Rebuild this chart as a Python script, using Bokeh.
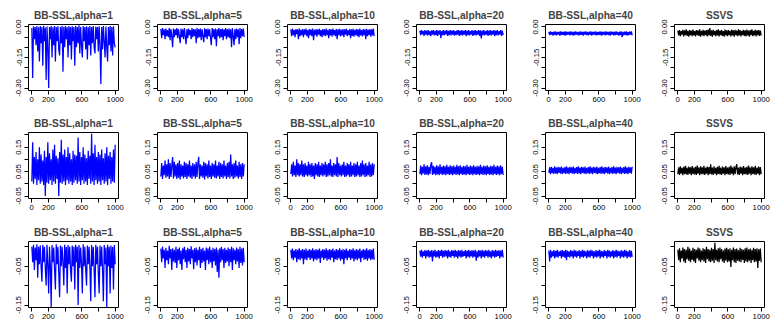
import numpy as np
from bokeh.plotting import figure
from bokeh.layouts import gridplot
from bokeh.models import Range1d, FixedTicker, NumeralTickFormatter
from bokeh.embed import file_html
from bokeh.resources import INLINE

titles = ["BB-SSL,alpha=1", "BB-SSL,alpha=5", "BB-SSL,alpha=10",
          "BB-SSL,alpha=20", "BB-SSL,alpha=40", "SSVS"]
line_colors = ["#0000FF", "#0000FF", "#0000FF", "#0000FF", "#0000FF", "#000000"]

# Trace values in units of 0.001
# ---- row 1 ----
r1p1 = [-5, -250, 3, -60, 0, -90, 5, -120, -2, -170, 4, -80, 0, -190, 6, -70, -3, -260, 2, -100,
        -300, 0, -60, 4, -150, -2, -90, 5, -170, 0, -70, 3, -110, -140, 0, -80, 6, -220, 0, -100,
        4, -60, -2, -150, 5, -90, 0, -160, 3, -70, -1, -190, 4, -100, 0, -80, 8, -130, 0, -90,
        -150, 5, -70, 0, -110, 3, -160, -2, -90, 4, -140, 0, -80, 5, -100, -130, 2, -60, 0, -120,
        3, -90, -280, 0, -110, 4, -70, -150, 2, -100, -170, 0, -90, 5, -120, 0, -140, 3, -80, -100]
r1p2 = [-10, -55, -5, -40, -12, -60, -8, -45, -15, -50, -6, -65, -10, -45, -100, -8, -50, -12, -40, -5,
        -55, -10, -45, -80, -8, -50, -12, -60, -5, -45, -85, -10, -55, -8, -40, -15, -60, -6, -50, -10,
        -45, -12, -80, -5, -55, -10, -50, -8, -65, -12, -45, -75, -6, -50, -10, -60, -8, -45, -12, -55,
        -90, -5, -50, -10, -60, -8, -95, -12, -45, -6, -55, -10, -50, -8, -65, -12, -45, -5, -60, -10,
        -50, -8, -55, -12, -100, -6, -45, -90, -10, -60, -8, -50, -12, -85, -5, -55, -10, -45, -8, -50]
r1p3 = [-12, -45, -8, -40, -15, -50, -10, -35, -12, -60, -8, -45, -14, -40, -10, -50, -12, -38, -8, -45,
        -15, -55, -10, -40, -12, -45, -8, -65, -14, -40, -10, -48, -12, -38, -9, -45, -15, -50, -10, -42,
        -12, -45, -8, -40, -14, -55, -10, -42, -12, -48, -8, -40, -15, -45, -10, -60, -12, -40, -9, -46,
        -14, -42, -10, -50, -12, -38, -8, -45, -15, -40, -10, -55, -12, -44, -9, -48, -14, -40, -10, -45,
        -12, -50, -8, -42, -15, -46, -10, -40, -12, -60, -9, -45, -14, -40, -10, -48, -12, -42, -8, -45]
r1p4 = [-18, -40, -15, -36, -20, -44, -16, -38, -18, -42, -15, -40, -20, -45, -17, -38, -15, -42, -19, -40,
        -16, -44, -18, -38, -15, -55, -20, -40, -16, -42, -18, -37, -15, -44, -19, -40, -16, -42, -18, -38,
        -15, -43, -20, -40, -17, -38, -15, -44, -18, -40, -16, -42, -19, -38, -15, -45, -18, -40, -16, -42,
        -20, -38, -15, -44, -18, -40, -16, -42, -19, -38, -15, -44, -17, -56, -18, -40, -15, -42, -20, -38,
        -16, -44, -18, -40, -15, -42, -19, -38, -16, -45, -18, -40, -15, -42, -20, -38, -16, -44, -18, -40]
r1p5 = [-24, -40, -22, -38, -25, -42, -23, -39, -22, -41, -25, -38, -23, -42, -22, -40, -24, -39, -23, -43,
        -22, -40, -25, -38, -23, -41, -22, -39, -24, -42, -23, -40, -22, -38, -25, -41, -23, -40, -22, -39,
        -24, -42, -23, -38, -22, -40, -25, -41, -23, -39, -22, -42, -24, -38, -23, -40, -22, -41, -25, -39,
        -23, -40, -22, -42, -24, -38, -23, -41, -22, -39, -25, -40, -23, -42, -22, -38, -24, -41, -23, -40,
        -22, -39, -25, -42, -23, -40, -22, -50, -24, -41, -23, -39, -22, -42, -25, -40, -23, -38, -22, -41]
r1p6 = [-18, -42, -15, -45, -20, -38, -14, -46, -17, -40, -12, -44, -19, -48, -15, -40, -18, -45, -13, -42,
        -20, -46, -15, -40, -17, -44, -12, -48, -19, -42, -14, -45, -18, -40, -16, -46, -13, -42, -5, -44,
        -17, -48, -14, -40, -19, -45, -15, -42, -12, -46, -18, -40, -15, -44, -20, -48, -13, -42, -17, -45,
        -15, -40, -19, -46, -13, -42, -17, -48, -14, -40, -18, -45, -12, -42, -16, -47, -19, -40, -14, -44,
        -17, -46, -13, -42, -18, -48, -15, -40, -12, -45, -19, -42, -14, -46, -17, -40, -15, -44, -18, -42]

# ---- row 2 ----
r2p1 = [10, 170, 0, 110, 20, 130, -5, 100, 15, 150, 0, 120, 10, 95, -5, 135, -50, 110, 5, 170,
        0, 125, 15, 100, -5, 140, 10, 160, 0, 115, 20, 105, -50, 130, 5, 180, 0, 120, 10, 140,
        -5, 110, 15, 150, 0, 125, 10, 100, -5, 135, 5, 120, 15, 115, 0, 190, 10, 130, -5, 110,
        15, 150, 0, 120, 10, 105, -5, 135, 20, 115, 0, 205, 10, 125, -5, 160, 15, 110, 0, 130,
        10, 120, -5, 140, 15, 105, 0, 125, 10, 150, -5, 115, 20, 130, 0, 110, 10, 140, 5, 160]
r2p2 = [30, 85, 20, 75, 35, 95, 25, 80, 30, 100, 20, 85, 28, 75, 110, 22, 90, 30, 80, 20,
        85, 25, 95, 18, 80, 30, 75, 22, 90, 28, 85, 20, 80, 30, 95, 25, 75, 20, 85, 30,
        80, 22, 90, 28, 85, 110, 20, 80, 30, 75, 25, 90, 18, 85, 30, 80, 22, 95, 28, 75,
        20, 85, 30, 80, 25, 95, 22, 75, 30, 90, 20, 85, 28, 80, 22, 95, 30, 75, 20, 85,
        28, 90, 22, 120, 30, 80, 20, 85, 25, 95, 30, 75, 22, 90, 28, 80, 20, 85, 30, 80]
r2p3 = [40, 80, 30, 90, 35, 75, 28, 100, 35, 85, 30, 80, 35, 95, 30, 80, 28, 85, 35, 75,
        30, 90, 35, 80, 28, 85, 30, 75, 20, 85, 35, 80, 30, 90, 28, 75, 35, 85, 30, 80,
        35, 90, 28, 80, 30, 85, 35, 100, 30, 75, 28, 85, 35, 80, 30, 110, 28, 85, 35, 75,
        30, 80, 35, 90, 28, 75, 30, 85, 35, 80, 28, 90, 30, 75, 35, 85, 28, 80, 30, 90,
        35, 75, 28, 85, 30, 95, 35, 80, 28, 85, 30, 75, 35, 90, 28, 80, 30, 85, 35, 80]
r2p4 = [40, 75, 35, 70, 42, 80, 36, 72, 38, 76, 35, 70, 40, 78, 88, 36, 74, 40, 70, 35,
        76, 38, 72, 35, 80, 40, 70, 36, 75, 38, 72, 35, 78, 40, 70, 36, 76, 38, 72, 35,
        75, 40, 70, 36, 78, 38, 72, 35, 76, 40, 70, 36, 74, 38, 72, 35, 78, 40, 70, 36,
        75, 38, 72, 35, 76, 40, 70, 36, 74, 38, 72, 35, 78, 40, 70, 36, 75, 38, 72, 35,
        76, 40, 70, 36, 74, 38, 72, 35, 78, 40, 70, 36, 75, 38, 72, 35, 76, 40, 70, 36]
r2p5 = [45, 68, 40, 70, 44, 65, 41, 72, 43, 66, 40, 70, 45, 67, 42, 71, 40, 65, 44, 69,
        41, 72, 43, 66, 40, 70, 45, 67, 42, 71, 40, 65, 44, 69, 41, 72, 43, 66, 40, 70,
        45, 67, 42, 71, 40, 65, 44, 69, 41, 72, 43, 66, 40, 70, 45, 67, 42, 71, 40, 65,
        44, 69, 41, 72, 43, 66, 40, 70, 45, 67, 42, 71, 40, 65, 44, 69, 41, 72, 43, 66,
        40, 70, 45, 67, 42, 71, 40, 65, 44, 69, 41, 72, 43, 66, 40, 70, 45, 67, 42, 70]
r2p6 = [40, 68, 36, 72, 42, 65, 35, 70, 40, 74, 38, 66, 36, 71, 42, 68, 35, 73, 40, 66,
        38, 70, 36, 75, 42, 67, 35, 72, 40, 68, 38, 74, 36, 66, 42, 71, 35, 69, 40, 80,
        38, 67, 36, 72, 42, 65, 35, 70, 40, 74, 38, 66, 36, 71, 42, 68, 35, 73, 40, 66,
        38, 70, 36, 75, 42, 67, 35, 72, 40, 68, 80, 38, 66, 36, 71, 42, 68, 35, 73, 40,
        66, 38, 70, 36, 75, 42, 67, 35, 72, 40, 68, 38, 74, 36, 66, 42, 71, 35, 69, 40]

# ---- row 3 ----
r3p1 = [0, -40, 5, -60, -2, -35, 6, -80, 0, -45, 3, -50, -90, 4, -40, 0, -55, -100, 5, -45,
        -120, 0, -50, -155, 4, -40, -2, -60, -110, 6, -45, 0, -70, -130, 3, -50, 0, -40, -100, 5,
        -55, -1, -120, 4, -45, 0, -60, -90, 3, -50, 0, -110, 5, -40, 0, -150, 4, -55, -2, -45,
        -120, 6, -50, 0, -60, -100, 3, -45, 0, -55, -140, 4, -50, -1, -60, -130, 5, -45, 0, -70,
        -120, 3, -50, 0, -60, -140, 4, -45, -2, -155, 5, -50, 0, -120, 3, -55, -1, -110, 4, -45]
r3p2 = [-5, -40, 0, -30, -8, -55, -3, -35, -10, -45, 2, -30, -6, -60, -4, -38, -8, -42, 0, -55,
        -6, -35, -2, -45, -10, -60, -4, -32, 0, -40, -8, -55, -3, -38, -6, -45, 1, -30, -8, -58,
        -4, -40, -2, -48, -8, -35, 0, -55, -6, -42, -3, -38, -10, -60, -2, -35, -5, -45, 0, -40,
        -8, -55, -3, -38, -6, -48, -2, -65, -8, -80, -4, -40, 0, -35, -6, -55, -3, -42, -8, -38,
        -2, -50, -6, -40, 0, -60, -4, -35, -8, -45, -2, -38, -6, -55, 0, -42, -5, -48, -3, -40]
r3p3 = [-8, -30, -5, -35, -10, -28, -6, -40, -8, -32, -4, -35, -9, -30, -6, -45, -8, -32, -5, -35,
        -10, -28, -6, -34, -8, -30, -4, -38, -9, -32, -6, -35, -8, -30, -5, -42, -10, -28, -6, -34,
        -8, -30, -4, -36, -9, -32, -6, -35, -8, -28, -5, -40, -10, -32, -6, -34, -8, -30, -4, -36,
        -9, -32, -6, -45, -8, -30, -5, -35, -10, -28, -6, -34, -8, -30, -4, -38, -9, -32, -6, -35,
        -8, -30, -5, -40, -10, -28, -6, -34, -8, -32, -4, -36, -9, -30, -6, -35, -8, -32, -5, -34]
r3p4 = [-10, -26, -8, -28, -12, -24, -9, -30, -10, -25, -8, -28, -11, -26, -9, -38, -10, -25, -8, -28,
        -12, -26, -9, -30, -10, -24, -8, -28, -11, -26, -9, -25, -10, -30, -8, -26, -12, -28, -9, -24,
        -10, -28, -8, -26, -11, -30, -9, -25, -10, -28, -8, -26, -12, -24, -9, -30, -10, -26, -8, -28,
        -11, -25, -9, -28, -10, -26, -8, -36, -12, -28, -9, -25, -10, -30, -8, -26, -11, -28, -9, -24,
        -10, -28, -8, -26, -12, -30, -9, -25, -10, -28, -8, -26, -11, -24, -9, -30, -10, -26, -8, -28]
r3p5 = [-10, -38, -8, -28, -12, -25, -9, -30, -11, -26, -8, -28, -12, -24, -10, -30, -9, -26, -11, -28,
        -8, -35, -10, -26, -12, -28, -9, -25, -11, -30, -8, -26, -10, -28, -12, -24, -9, -30, -11, -26,
        -8, -28, -10, -25, -12, -30, -9, -26, -11, -28, -8, -24, -10, -30, -12, -26, -9, -28, -11, -25,
        -8, -30, -10, -26, -12, -28, -9, -24, -11, -30, -8, -26, -10, -28, -12, -25, -9, -30, -11, -26,
        -8, -28, -10, -24, -12, -30, -9, -26, -11, -28, -8, -25, -10, -30, -12, -26, -9, -28, -11, -26]
r3p6 = [-8, -35, -4, -40, -10, -30, -2, -38, -6, -42, -8, -32, 0, -36, -5, -40, -10, -34, -3, -38,
        -6, -42, -8, -30, -2, -36, -5, -40, -10, -35, -4, -38, -7, -42, 0, -32, -6, -38, -8, -40,
        -3, -36, -6, -42, 10, -35, -8, -38, -4, -40, -2, -32, -6, -38, -9, -42, -5, -36, -3, -40,
        -7, -38, -4, -52, -8, -35, -2, -40, -6, -42, -5, -36, -9, -38, -3, -40, -6, -34, -8, -42,
        -4, -38, -2, -40, -7, -36, -5, -42, -8, -35, -3, -40, -6, -38, -4, -55, -7, -36, -5, -40]

rows = [[r1p1, r1p2, r1p3, r1p4, r1p5, r1p6],
        [r2p1, r2p2, r2p3, r2p4, r2p5, r2p6],
        [r3p1, r3p2, r3p3, r3p4, r3p5, r3p6]]
value_unit = 0.001

x_major = [0, 200, 600, 1000]
x_minor = [400, 800]
row_y_major = [[0.0, -0.15, -0.30], [-0.05, 0.05, 0.15], [-0.15, -0.05]]
row_y_minor = [[-0.05, -0.10, -0.20, -0.25], [0.0, 0.10, 0.20], [-0.10, 0.0]]
row_ylim = [(-0.30, 0.0), (-0.05, 0.20), (-0.15, 0.007)]
n_iter = 1000

# layout (page has no body margin in Bokeh's template)
col_widths = [129, 129, 130, 129, 129, 129]
col_left = [28, 28, 29, 28, 28, 28]
row_heights = [108, 109, 108]
FRAME_W, FRAME_H, TOP = 90, 66, 24
FONT = "Liberation Sans"

grid = []
for r in range(3):
    row_figs = []
    lo, hi = row_ylim[r]
    pad = 0.04 * (hi - lo)
    for c in range(6):
        w = col_widths[c]
        h = row_heights[r]
        p = figure(width=w, height=h, output_backend="svg", toolbar_location=None,
                   x_range=Range1d(1 - 0.04 * (n_iter - 1), n_iter + 0.04 * (n_iter - 1)),
                   y_range=Range1d(lo - pad, hi + pad),
                   min_border_left=col_left[c], min_border_right=w - col_left[c] - FRAME_W,
                   min_border_top=TOP, min_border_bottom=h - TOP - FRAME_H)
        p.title.text = titles[c]
        p.title.text_font = FONT
        p.title.text_font_size = "10.2px"
        p.title.text_font_style = "bold"
        p.title.align = "center"
        p.title.standoff = 7
        p.outline_line_color = "black"
        p.outline_line_width = 1
        p.outline_line_alpha = 1
        p.xgrid.visible = False
        p.ygrid.visible = False
        p.background_fill_color = "white"
        p.border_fill_color = "white"

        vals = [v * value_unit for v in rows[r][c]]
        xs = np.linspace(1, n_iter, len(vals))
        p.line(xs, vals, line_color=line_colors[c], line_width=1.25, line_join="bevel")

        p.xaxis.ticker = FixedTicker(ticks=x_major, minor_ticks=x_minor)
        p.yaxis.ticker = FixedTicker(ticks=row_y_major[r], minor_ticks=row_y_minor[r])
        p.yaxis.formatter = NumeralTickFormatter(format="0.00")
        for ax in (p.xaxis, p.yaxis):
            ax.axis_line_color = None
            ax.major_tick_in = 0
            ax.major_tick_out = 4
            ax.minor_tick_in = 0
            ax.minor_tick_out = 4
            ax.major_tick_line_color = "black"
            ax.minor_tick_line_color = "black"
            ax.major_label_text_font = FONT
            ax.major_label_text_font_size = "7.7px"
            ax.major_label_text_color = "black"
        p.xaxis.major_label_standoff = 2
        p.yaxis.major_label_standoff = 3
        p.yaxis.major_label_orientation = "vertical"
        row_figs.append(p)
    grid.append(row_figs)

layout = gridplot(grid, toolbar_location=None)
open("out.html", "w").write(file_html(layout, INLINE))
